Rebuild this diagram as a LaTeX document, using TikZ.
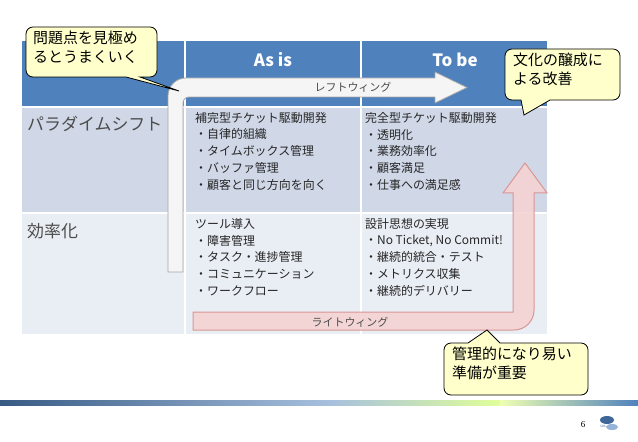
\documentclass[tikz,border=0pt]{standalone}
\usepackage{fontspec}
\setmainfont{Noto Sans CJK JP}
\newfontfamily\jpl{Noto Sans CJK JP}
\newfontfamily\ser{Liberation Serif}
\definecolor{hdr}{HTML}{4F81BD}
\definecolor{rowa}{HTML}{D0D8E8}
\definecolor{rowb}{HTML}{E9EDF4}
\definecolor{callfill}{HTML}{FFFFCC}
\definecolor{pinkf}{HTML}{F5D3D3}
\definecolor{pinkd}{HTML}{D99694}
\begin{document}
\begin{tikzpicture}[x=1bp,y=-1bp,
  cell/.style={anchor=north west,align=left,inner sep=0pt,font=\fontsize{12}{16.8}\selectfont,text=black!85},
  rowlab/.style={anchor=west,inner sep=0pt,font=\fontsize{17}{20}\selectfont,text=black!70},
  head/.style={inner sep=0pt,font=\fontsize{17}{20}\selectfont\bfseries,text=white},
  wing/.style={inner sep=0pt,font=\fontsize{11}{13}\selectfont,text=black!70},
  calltext/.style={anchor=north west,align=left,inner sep=0pt,font=\fontsize{15}{19}\selectfont},
  callout/.style={fill=callfill,draw=black,line width=0.8bp,rounded corners=7}]
\useasboundingbox (0,0) rectangle (638,442);
\fill[white] (0,0) rectangle (638,442);
% table
\fill[hdr] (22,41) rectangle (547,107);
\fill[rowa] (22,107) rectangle (547,213);
\fill[rowb] (22,213) rectangle (547,334);
\draw[white,line width=1.2bp] (185,41) -- (185,334) (361,41) -- (361,334) (22,107) -- (547,107) (22,213) -- (547,213);
\node[head] (asis) at (273,60) {As is};
\node[head] (tobe) at (455,60) {To be};
\node[rowlab] (r1) at (27,124) {パラダイムシフト};
\node[rowlab] (r2) at (27,231) {効率化};
\node[cell] (c11) at (195,112) {補完型チケット駆動開発\\・自律的組織\\・タイムボックス管理\\・バッファ管理\\・顧客と同じ方向を向く};
\node[cell] (c12) at (365,112) {完全型チケット駆動開発\\・透明化\\・業務効率化\\・顧客満足\\・仕事への満足感};
\node[cell] (c21) at (195,218) {ツール導入\\・障害管理\\・タスク・進捗管理\\・コミュニケーション\\・ワークフロー};
\node[cell] (c22) at (365,218) {設計思想の実現\\・No Ticket, No Commit!\\・継続的統合・テスト\\・メトリクス収集\\・継続的デリバリー};
% left wing
\draw[fill=black!4,draw=black!35,line width=0.8bp]
  (168,272) [rounded corners=18] -- (168,78) [sharp corners] -- (435,78) -- (435,72) -- (467,87.5) -- (435,103) -- (435,97) [rounded corners=6] -- (183,97) [sharp corners] -- (183,272) -- cycle;
\node[wing] (lw) at (353,87) {レフトウィング};
% right wing
\draw[fill=pinkf,fill opacity=0.9,draw=pinkd,line width=1bp]
  (193,312) -- (513,312) -- (513,193) -- (503,193) -- (525,163) -- (547,193) -- (534,193) [rounded corners=20] -- (534,330) [sharp corners] -- (193,330) -- cycle;
\node[wing] (rw) at (350,322) {ライトウィング};
% callouts
\draw[callout] (26,27) -- (157,27) -- (157,77) [sharp corners] -- (140,77) -- (179,91) -- (126,77) [rounded corners=7] -- (26,77) -- cycle;
\node[calltext] (k1) at (33,31) {問題点を見極め\\るとうまくいく};
\draw[callout] (505,49) -- (620,49) -- (620,100) [sharp corners] -- (550,100) -- (524,115) -- (521,100) [rounded corners=7] -- (505,100) -- cycle;
\node[calltext] (k2) at (513,53) {文化の醸成に\\よる改善};
\draw[callout] (444,343) [sharp corners] -- (468,343) -- (487,330) -- (500,343) [rounded corners=7] -- (588,343) -- (588,395) -- (444,395) -- cycle;
\node[calltext] (k3) at (452,347) {管理的になり易い\\準備が重要};
% footer
\shade[left color=hdr!70!black,right color=hdr!50] (0,400) rectangle (330,405);
\shade[left color=hdr!50,right color=green!30!yellow!40] (330,400) rectangle (500,405);
\shade[left color=green!20!yellow!30,right color=hdr] (500,400) rectangle (638,405);
\node[font=\ser\fontsize{9}{10}\selectfont] (pg) at (583,425) {6};
\fill[hdr!80!black] (607,420) ellipse (7 and 4);
\fill[hdr!60] (612,427) ellipse (6 and 3);
\node[font=\fontsize{3}{3}\selectfont,text=hdr!90!black] (sba) at (603,426) {SBA};
\end{tikzpicture}
\end{document}
